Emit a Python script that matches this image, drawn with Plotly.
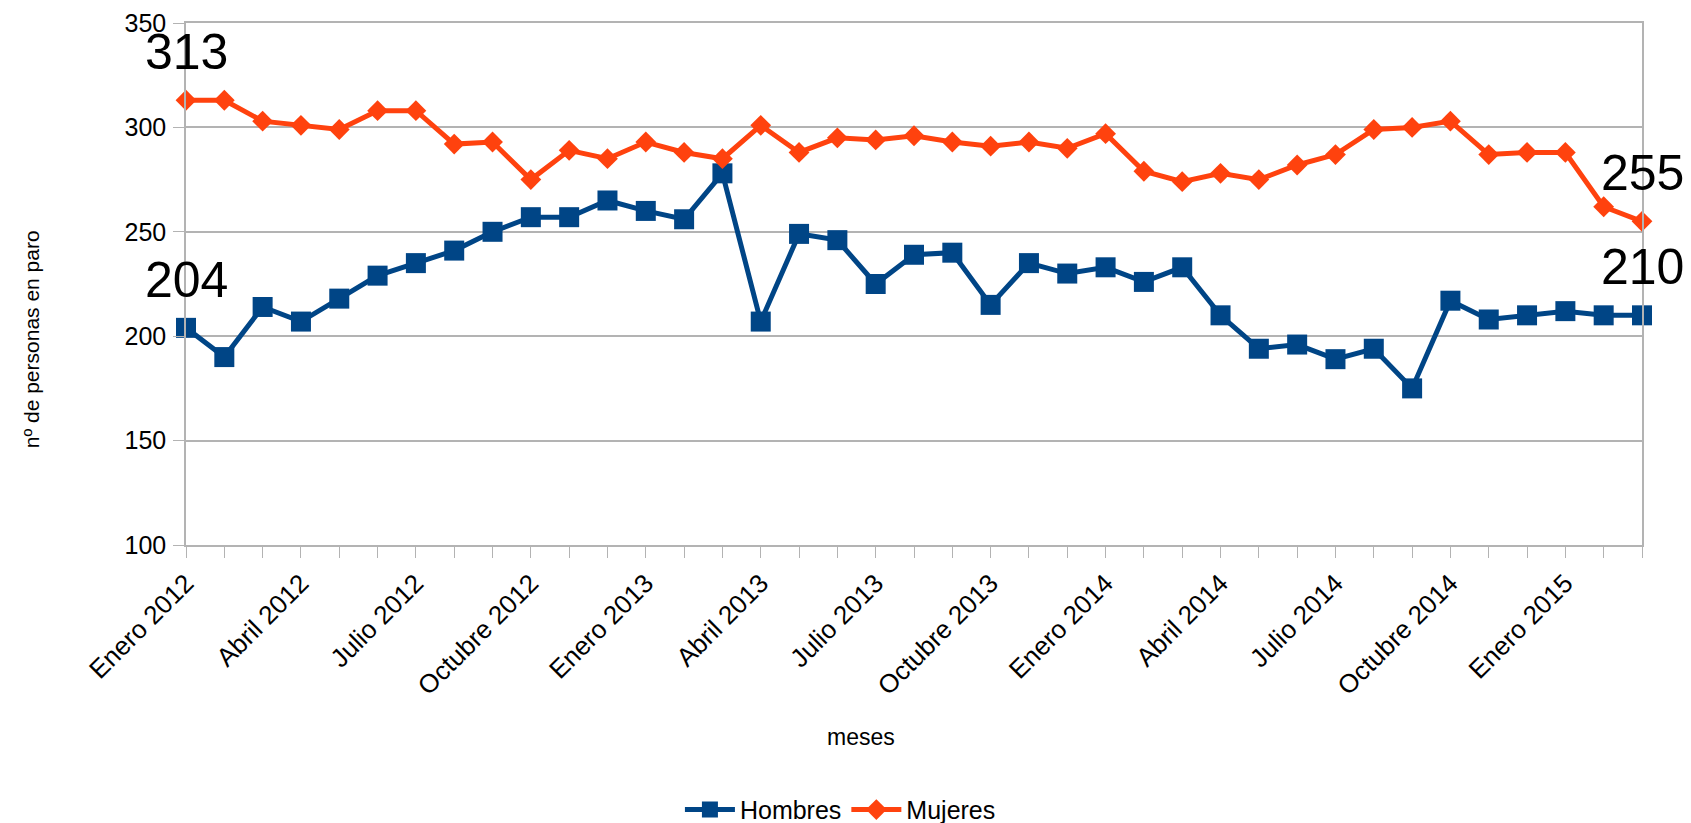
import plotly.graph_objects as go

meses = [
    "Enero 2012", "Febrero 2012", "Marzo 2012", "Abril 2012", "Mayo 2012", "Junio 2012",
    "Julio 2012", "Agosto 2012", "Septiembre 2012", "Octubre 2012", "Noviembre 2012", "Diciembre 2012",
    "Enero 2013", "Febrero 2013", "Marzo 2013", "Abril 2013", "Mayo 2013", "Junio 2013",
    "Julio 2013", "Agosto 2013", "Septiembre 2013", "Octubre 2013", "Noviembre 2013", "Diciembre 2013",
    "Enero 2014", "Febrero 2014", "Marzo 2014", "Abril 2014", "Mayo 2014", "Junio 2014",
    "Julio 2014", "Agosto 2014", "Septiembre 2014", "Octubre 2014", "Noviembre 2014", "Diciembre 2014",
    "Enero 2015", "Febrero 2015", "Marzo 2015",
]

hombres = [204, 190, 214, 207, 218, 229, 235, 241, 250, 257, 257, 265,
           260, 256, 278, 207, 249, 246, 225, 239, 240, 215, 235, 230,
           233, 226, 233, 210, 194, 196, 189, 194, 175, 217, 208, 210,
           212, 210, 210]

mujeres = [313, 313, 303, 301, 299, 308, 308, 292, 293, 275, 289, 285,
           293, 288, 285, 301, 288, 295, 294, 296, 293, 291, 293, 290,
           297, 279, 274, 278, 275, 282, 287, 299, 300, 303, 287, 288,
           288, 262, 255]

tick_labels = [m if i % 3 == 0 else "" for i, m in enumerate(meses)]

AZUL = "#004586"
NARANJA = "#ff420e"
GRIS = "#b3b3b3"
FONT = "Liberation Sans, Arial, sans-serif"

fig = go.Figure()
fig.add_trace(go.Scatter(
    x=meses, y=hombres, name="Hombres", mode="lines+markers",
    line=dict(color=AZUL, width=5),
    marker=dict(symbol="square", size=20, color=AZUL),
    cliponaxis=False,
))
fig.add_trace(go.Scatter(
    x=meses, y=mujeres, name="Mujeres", mode="lines+markers",
    line=dict(color=NARANJA, width=5),
    marker=dict(symbol="diamond", size=16, color=NARANJA),
    cliponaxis=False,
))

# data labels on first and last points
for serie in (hombres, mujeres):
    for idx in (0, len(meses) - 1):
        fig.add_annotation(
            x=meses[idx], y=serie[idx], text=str(serie[idx]),
            showarrow=False, yanchor="bottom", xanchor="center", yshift=18,
            font=dict(size=50, color="black", family=FONT),
        )

fig.add_annotation(
    text="nº de personas en paro", xref="paper", yref="paper",
    x=-0.1062, y=0.395, textangle=-90, showarrow=False,
    xanchor="center", yanchor="middle",
    font=dict(size=21, color="black", family=FONT),
)
fig.add_annotation(
    text="meses", xref="paper", yref="paper",
    x=0.4636, y=-0.368, showarrow=False,
    xanchor="center", yanchor="middle",
    font=dict(size=23, color="black", family=FONT),
)

fig.update_layout(
    width=1691, height=823,
    margin=dict(l=186, r=49, t=23, b=278, autoexpand=False),
    paper_bgcolor="white", plot_bgcolor="white",
    font=dict(family=FONT, size=24, color="black"),
    showlegend=True,
    legend=dict(
        orientation="h", xref="container", x=0.497, xanchor="center",
        yref="container", y=0.016, yanchor="middle",
        font=dict(size=25), itemwidth=50,
    ),
    xaxis=dict(
        type="category", categoryorder="array", categoryarray=meses,
        range=[0, len(meses) - 1], automargin=False,
        tickmode="array", tickvals=meses, ticktext=tick_labels,
        tickangle=-45, ticks="outside", ticklen=11, tickcolor=GRIS,
        showline=True, linecolor=GRIS, linewidth=1.5, mirror=True,
        showgrid=False, zeroline=False,
        tickfont=dict(size=26),
    ),
    yaxis=dict(
        range=[100, 350], dtick=50, tick0=100, automargin=False,
        ticks="outside", ticklen=11, tickcolor=GRIS,
        showline=True, linecolor=GRIS, linewidth=1.5, mirror=True,
        showgrid=True, gridcolor=GRIS, gridwidth=1.5, zeroline=False,
        tickfont=dict(size=25), ticklabelstandoff=2,
    ),
)

fig.write_html(
    "out.html",
    config={"displayModeBar": False},
    post_script="document.body.style.margin='0';document.body.style.overflow='hidden';",
)
